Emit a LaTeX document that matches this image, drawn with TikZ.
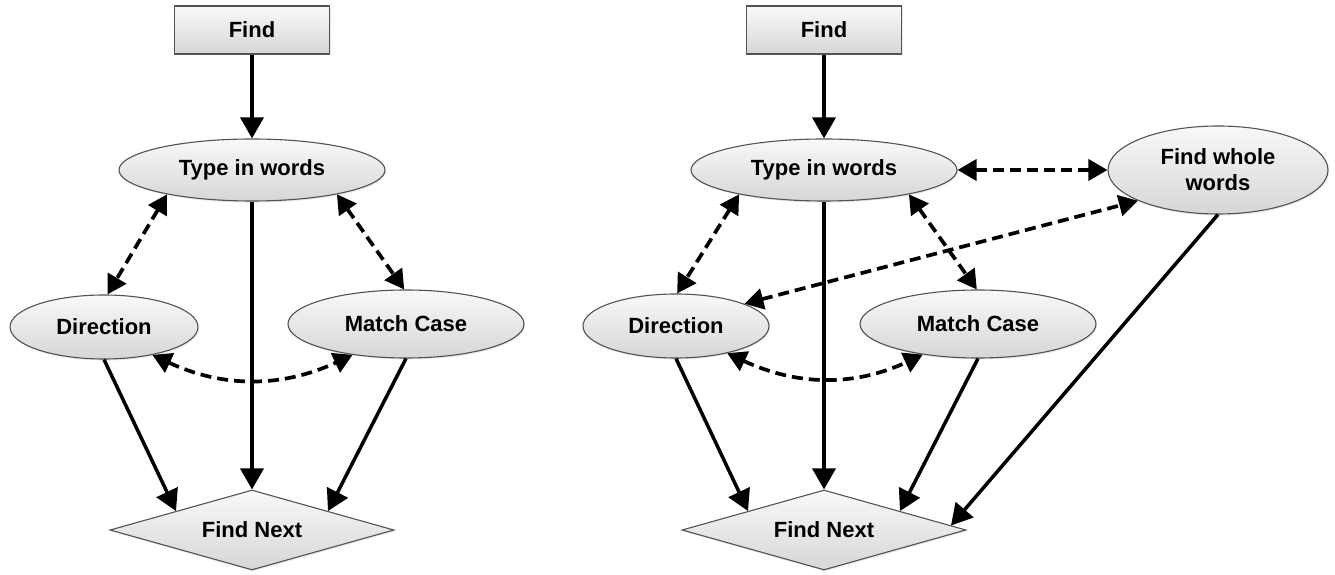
\documentclass[tikz,border=0pt]{standalone}
\usepackage{fontspec}
\setmainfont{Liberation Sans}
\usetikzlibrary{arrows.meta,shapes.geometric,shadows}
\begin{document}
\begin{tikzpicture}[x=1pt,y=1pt]
\tikzset{
 shapebase/.style={draw=gray!65!black, line width=1.1pt, top color=gray!5, bottom color=gray!32,
   font=\fontsize{22}{26}\selectfont\bfseries, text=black, inner sep=0pt, align=center,
   drop shadow={opacity=0.18,shadow xshift=1pt,shadow yshift=-1.5pt}},
 boxnode/.style={shapebase, rectangle, minimum width=155pt, minimum height=48pt},
 ellnode/.style={shapebase, ellipse},
 dianode/.style={shapebase, diamond, aspect=3.5, minimum width=284pt, minimum height=80pt},
 solidarrow/.style={line width=3.5pt, -{Triangle[length=21pt,width=23pt]}},
 dasharrow/.style={line width=3.7pt, dash pattern=on 11pt off 6pt,
   {Triangle[length=19pt,width=21pt]}-{Triangle[length=19pt,width=21pt]}},
}
\useasboundingbox (0,0) rectangle (1335,575);
% left diagram
\node[boxnode] (findL) at (252,545) {Find};
\node[ellnode, minimum width=266pt, minimum height=62pt] (typeL) at (252,405) {Type in words};
\node[ellnode, minimum width=188pt, minimum height=64pt] (dirL) at (104,248) {Direction};
\node[ellnode, minimum width=236pt, minimum height=68pt] (matchL) at (406,251) {Match Case};
\node[dianode] (nextL) at (252,45) {Find Next};
% right diagram
\node[boxnode] (findR) at (824,545) {Find};
\node[ellnode, minimum width=266pt, minimum height=62pt] (typeR) at (824,405) {Type in words};
\node[ellnode, minimum width=186pt, minimum height=64pt] (dirR) at (676,249) {Direction};
\node[ellnode, minimum width=236pt, minimum height=68pt] (matchR) at (978,251) {Match Case};
\node[ellnode, minimum width=220pt, minimum height=88pt] (wholeR) at (1218,405) {Find whole\\words};
\node[dianode] (nextR) at (824,45) {Find Next};
% left connectors
\draw[solidarrow] (findL.south) -- (typeL.north);
\draw[solidarrow] (typeL.south) -- (nextL.north);
\draw[dasharrow] (typeL.196) -- (dirL.84);
\draw[dasharrow] (typeL.344) -- (matchL.93);
\draw[dasharrow] (dirL.330) to[out=-25,in=-155] (matchL.210);
\draw[solidarrow] (dirL.south) -- (nextL.166);
\draw[solidarrow] (matchL.south) -- (nextL.14);
% right connectors
\draw[solidarrow] (findR.south) -- (typeR.north);
\draw[solidarrow] (typeR.south) -- (nextR.north);
\draw[dasharrow] (typeR.east) -- (wholeR.west);
\draw[dasharrow] (dirR.18) -- (wholeR.201);
\draw[dasharrow] (typeR.196) -- (dirR.88);
\draw[dasharrow] (typeR.344) -- (matchR.92);
\draw[dasharrow] (dirR.332) to[out=-25,in=-155] (matchR.209);
\draw[solidarrow] (dirR.south) -- (nextR.166);
\draw[solidarrow] (matchR.south) -- (nextR.14);
\draw[solidarrow] (wholeR.south) -- (nextR.2.4);
\end{tikzpicture}
\end{document}
